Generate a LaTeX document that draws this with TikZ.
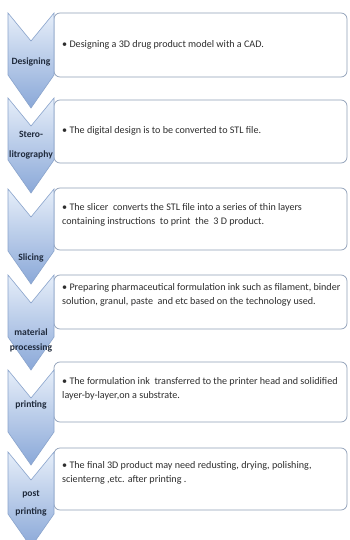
\documentclass[tikz,border=0pt]{standalone}
\usepackage{fontspec}
\setmainfont{Carlito}
\definecolor{chevtop}{HTML}{E6EEF9}
\definecolor{chevbot}{HTML}{8AA8D8}
\definecolor{chevline}{HTML}{8AA4CC}
\definecolor{boxline}{HTML}{8F9FB8}
\definecolor{txt}{HTML}{2E2E2E}
\definecolor{lbltxt}{HTML}{1F2A3C}
\tikzset{
  chev/.style={top color=chevtop, bottom color=chevbot, draw=chevline, line width=0.6pt},
  itembox/.style={draw=boxline, fill=white, rounded corners=6pt, line width=0.7pt},
  lbl/.style={font=\bfseries\fontsize{9.6}{15}\selectfont, text=lbltxt, align=center, inner sep=0pt},
  body/.style={font=\fontsize{10.1}{13.5}\selectfont, text=txt, align=left, inner sep=0pt, anchor=west}
}
\newcommand{\chevron}[1]{%
  \path[chev] (8,#1) -- (31,#1+28) -- (54,#1) -- (54,#1+62) -- (31,#1+95) -- (8,#1+62) -- cycle;}
\begin{document}
\begin{tikzpicture}[x=1pt,y=-1pt]
\useasboundingbox (0,0) rectangle (349,540);
\fill[white] (0,0) rectangle (349,540);
% boxes
\path[itembox] (54,13) rectangle (347,77);
\path[itembox] (54,100) rectangle (347,163);
\path[itembox] (54,188) rectangle (347,250);
\path[itembox] (54,275) rectangle (347,329);
\path[itembox] (54,362) rectangle (347,422);
\path[itembox] (54,448) rectangle (347,510);
% chevrons
\chevron{13}
\chevron{98}
\chevron{189}
\chevron{275}
\chevron{370}
\chevron{452}
% labels
\node[lbl] (l1) at (31,62) {Designing};
\node[lbl, font=\bfseries\fontsize{9.6}{20}\selectfont] (l2) at (31,145) {Stero-\\litrography};
\node[lbl] (l3) at (31,258) {Slicing};
\node[lbl] (l4) at (31,340) {material\\processing};
\node[lbl] (l5) at (31,405) {printing};
\node[lbl, font=\bfseries\fontsize{9.6}{18}\selectfont] (l6) at (31,503) {post\\printing};
% texts
\node[body] (t1) at (62,45) {• Designing a 3D drug product model with a CAD.};
\node[body] (t2) at (62,131) {• The digital design is to be converted to STL file.};
\node[body] (t3) at (62,215) {• The slicer\ \ converts the STL file into a series of thin layers\\containing instructions\ \ to print\ \ the\ \ 3 D product.};
\node[body] (t4) at (62,295) {• Preparing pharmaceutical formulation ink such as filament, binder\\solution, granul, paste\ \ and etc based on the technology used.};
\node[body] (t5) at (62,389) {• The formulation ink\ \ transferred to the printer head and solidified\\layer-by-layer,on a substrate.};
\node[body] (t6) at (62,473) {• The final 3D product may need redusting, drying, polishing,\\scienterng ,etc. after printing .};
\end{tikzpicture}
\end{document}
